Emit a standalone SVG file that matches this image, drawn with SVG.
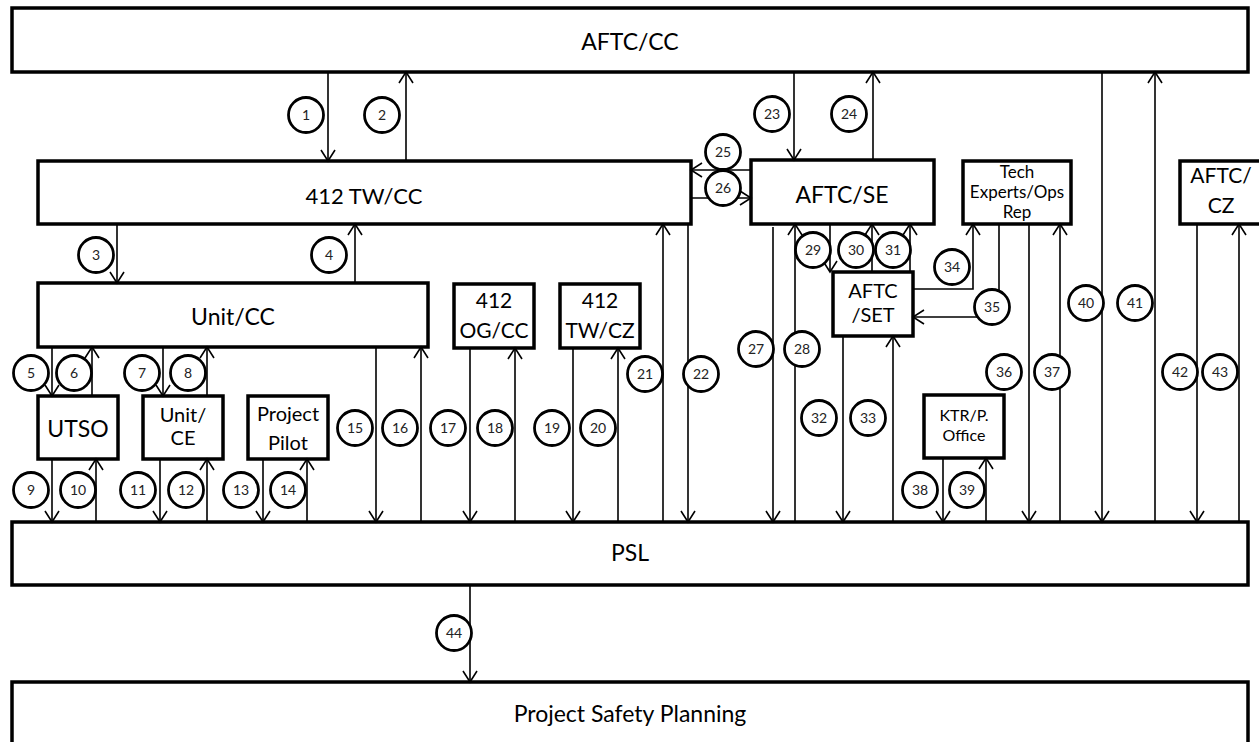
<svg xmlns="http://www.w3.org/2000/svg" width="1259" height="742" viewBox="0 0 1259 742">
<style>
.box{fill:#fff;stroke:#000;stroke-width:3.5}
.t{font-family:Lato,"Liberation Sans",sans-serif;fill:#000;text-anchor:middle}
.c{fill:none;stroke:#000;stroke-width:1.6}
.lb circle{fill:#fff;stroke:#000;stroke-width:2.8}
.lb text{font-family:Lato,"Liberation Sans",sans-serif;font-size:14px;fill:#222;text-anchor:middle}
</style>
<defs>
<marker id="a" viewBox="-12 -8 14 16" refX="0" refY="0" markerWidth="14" markerHeight="16" markerUnits="userSpaceOnUse" orient="auto">
<path d="M-11,-7 L0,0 L-11,7" fill="none" stroke="#000" stroke-width="1.6"/>
</marker>
</defs>
<rect width="1259" height="742" fill="#fff"/>

<g id="aftc-cc"><rect class="box" x="12" y="8" width="1236" height="64"/><text class="t" x="630" y="50" font-size="23">AFTC/CC</text></g>
<g id="tw-cc"><rect class="box" x="38" y="161" width="653" height="63"/><text class="t" x="364" y="204" font-size="22">412 TW/CC</text></g>
<g id="aftc-se"><rect class="box" x="751" y="160" width="183" height="64"/><text class="t" x="842" y="203" font-size="23">AFTC/SE</text></g>
<g id="tech"><rect class="box" x="963" y="161" width="108" height="63"/><text class="t" font-size="17"><tspan x="1017" y="178">Tech</tspan><tspan x="1017" y="198">Experts/Ops</tspan><tspan x="1017" y="218">Rep</tspan></text></g>
<g id="aftc-cz"><rect class="box" x="1180" y="161" width="90" height="63"/><text class="t" font-size="21"><tspan x="1221" y="183">AFTC/</tspan><tspan x="1221" y="213">CZ</tspan></text></g>
<g id="unit-cc"><rect class="box" x="38" y="283" width="390" height="64"/><text class="t" x="233" y="325" font-size="23">Unit/CC</text></g>
<g id="og-cc"><rect class="box" x="454" y="284" width="80" height="64"/><text class="t" font-size="21"><tspan x="494" y="308">412</tspan><tspan x="494" y="338">OG/CC</tspan></text></g>
<g id="tw-cz"><rect class="box" x="560" y="284" width="80" height="64"/><text class="t" font-size="21"><tspan x="600" y="308">412</tspan><tspan x="600" y="338">TW/CZ</tspan></text></g>
<g id="aftc-set"><rect class="box" x="833" y="272" width="80" height="64"/><text class="t" font-size="20"><tspan x="873" y="298">AFTC</tspan><tspan x="873" y="322">/SET</tspan></text></g>
<g id="utso"><rect class="box" x="38" y="396" width="80" height="63"/><text class="t" x="78" y="437" font-size="23">UTSO</text></g>
<g id="unit-ce"><rect class="box" x="143" y="396" width="80" height="63"/><text class="t" font-size="20"><tspan x="183" y="422">Unit/</tspan><tspan x="183" y="445">CE</tspan></text></g>
<g id="pilot"><rect class="box" x="248" y="396" width="80" height="63"/><text class="t" font-size="20"><tspan x="288" y="421">Project</tspan><tspan x="288" y="450">Pilot</tspan></text></g>
<g id="ktr"><rect class="box" x="924" y="395" width="80" height="63"/><text class="t" font-size="16"><tspan x="964" y="421">KTR/P.</tspan><tspan x="964" y="441">Office</tspan></text></g>
<g id="psl"><rect class="box" x="12" y="522" width="1236" height="63"/><text class="t" x="630" y="561" font-size="23">PSL</text></g>
<g id="psp"><rect class="box" x="12" y="682" width="1236" height="80"/><text class="t" x="630" y="722" font-size="23">Project Safety Planning</text></g>

<g id="connectors" class="c" marker-end="url(#a)">
<path class="c" d="M328,72V161"/>
<path class="c" d="M406,161V72"/>
<path class="c" d="M117,224V283"/>
<path class="c" d="M355,283V224"/>
<path class="c" d="M52,347V396"/>
<path class="c" d="M92,396V347"/>
<path class="c" d="M163,347V396"/>
<path class="c" d="M207,396V347"/>
<path class="c" d="M52,459V522"/>
<path class="c" d="M96,522V459"/>
<path class="c" d="M160,459V522"/>
<path class="c" d="M207,522V459"/>
<path class="c" d="M263,459V522"/>
<path class="c" d="M307,522V459"/>
<path class="c" d="M376,347V522"/>
<path class="c" d="M421,522V347"/>
<path class="c" d="M470,348V522"/>
<path class="c" d="M515,522V348"/>
<path class="c" d="M573,348V522"/>
<path class="c" d="M618,522V348"/>
<path class="c" d="M663,522V224"/>
<path class="c" d="M688,224V522"/>
<path class="c" d="M794,72V160"/>
<path class="c" d="M873,160V72"/>
<path class="c" d="M751,170H691"/>
<path class="c" d="M691,198H751"/>
<path class="c" d="M773,227V522"/>
<path class="c" d="M795,522V224"/>
<path class="c" d="M830,224V272"/>
<path class="c" d="M872,272V224"/>
<path class="c" d="M910,272V224"/>
<path class="c" d="M843,336V522"/>
<path class="c" d="M893,522V336"/>
<path class="c" d="M913,289H973V224"/>
<path class="c" d="M999,224V317H913"/>
<path class="c" d="M1029,224V522"/>
<path class="c" d="M1060,522V224"/>
<path class="c" d="M943,458V522"/>
<path class="c" d="M986,522V458"/>
<path class="c" d="M1102,72V522"/>
<path class="c" d="M1155,522V72"/>
<path class="c" d="M1197,224V522"/>
<path class="c" d="M1239,522V224"/>
<path class="c" d="M470,585V682"/>
</g>

<g id="labels" class="lb">
<circle cx="306" cy="115" r="17.5"/><text x="306" y="120">1</text>
<circle cx="382" cy="115" r="17.5"/><text x="382" y="120">2</text>
<circle cx="96" cy="255" r="17.5"/><text x="96" y="260">3</text>
<circle cx="329" cy="255" r="17.5"/><text x="329" y="260">4</text>
<circle cx="31" cy="373" r="17.5"/><text x="31" y="378">5</text>
<circle cx="74" cy="373" r="17.5"/><text x="74" y="378">6</text>
<circle cx="142" cy="373" r="17.5"/><text x="142" y="378">7</text>
<circle cx="188" cy="373" r="17.5"/><text x="188" y="378">8</text>
<circle cx="31" cy="490" r="17.5"/><text x="31" y="495">9</text>
<circle cx="78" cy="490" r="17.5"/><text x="78" y="495">10</text>
<circle cx="138" cy="490" r="17.5"/><text x="138" y="495">11</text>
<circle cx="186" cy="490" r="17.5"/><text x="186" y="495">12</text>
<circle cx="241" cy="490" r="17.5"/><text x="241" y="495">13</text>
<circle cx="288" cy="490" r="17.5"/><text x="288" y="495">14</text>
<circle cx="355" cy="428" r="17.5"/><text x="355" y="433">15</text>
<circle cx="400" cy="428" r="17.5"/><text x="400" y="433">16</text>
<circle cx="448" cy="428" r="17.5"/><text x="448" y="433">17</text>
<circle cx="495" cy="428" r="17.5"/><text x="495" y="433">18</text>
<circle cx="552" cy="428" r="17.5"/><text x="552" y="433">19</text>
<circle cx="598" cy="428" r="17.5"/><text x="598" y="433">20</text>
<circle cx="645" cy="374" r="17.5"/><text x="645" y="379">21</text>
<circle cx="701" cy="374" r="17.5"/><text x="701" y="379">22</text>
<circle cx="772" cy="114" r="17.5"/><text x="772" y="119">23</text>
<circle cx="849" cy="114" r="17.5"/><text x="849" y="119">24</text>
<circle cx="723" cy="152" r="17.5"/><text x="723" y="157">25</text>
<circle cx="723" cy="188" r="17.5"/><text x="723" y="193">26</text>
<circle cx="756" cy="349" r="17.5"/><text x="756" y="354">27</text>
<circle cx="802" cy="349" r="17.5"/><text x="802" y="354">28</text>
<circle cx="813" cy="250" r="17.5"/><text x="813" y="255">29</text>
<circle cx="856" cy="250" r="17.5"/><text x="856" y="255">30</text>
<circle cx="893" cy="250" r="17.5"/><text x="893" y="255">31</text>
<circle cx="819" cy="418" r="17.5"/><text x="819" y="423">32</text>
<circle cx="868" cy="418" r="17.5"/><text x="868" y="423">33</text>
<circle cx="952" cy="267" r="17.5"/><text x="952" y="272">34</text>
<circle cx="992" cy="307" r="17.5"/><text x="992" y="312">35</text>
<circle cx="1004" cy="372" r="17.5"/><text x="1004" y="377">36</text>
<circle cx="1052" cy="372" r="17.5"/><text x="1052" y="377">37</text>
<circle cx="920" cy="490" r="17.5"/><text x="920" y="495">38</text>
<circle cx="967" cy="490" r="17.5"/><text x="967" y="495">39</text>
<circle cx="1086" cy="303" r="17.5"/><text x="1086" y="308">40</text>
<circle cx="1135" cy="303" r="17.5"/><text x="1135" y="308">41</text>
<circle cx="1180" cy="372" r="17.5"/><text x="1180" y="377">42</text>
<circle cx="1220" cy="372" r="17.5"/><text x="1220" y="377">43</text>
<circle cx="454" cy="633" r="17.5"/><text x="454" y="638">44</text>
</g>
</svg>
